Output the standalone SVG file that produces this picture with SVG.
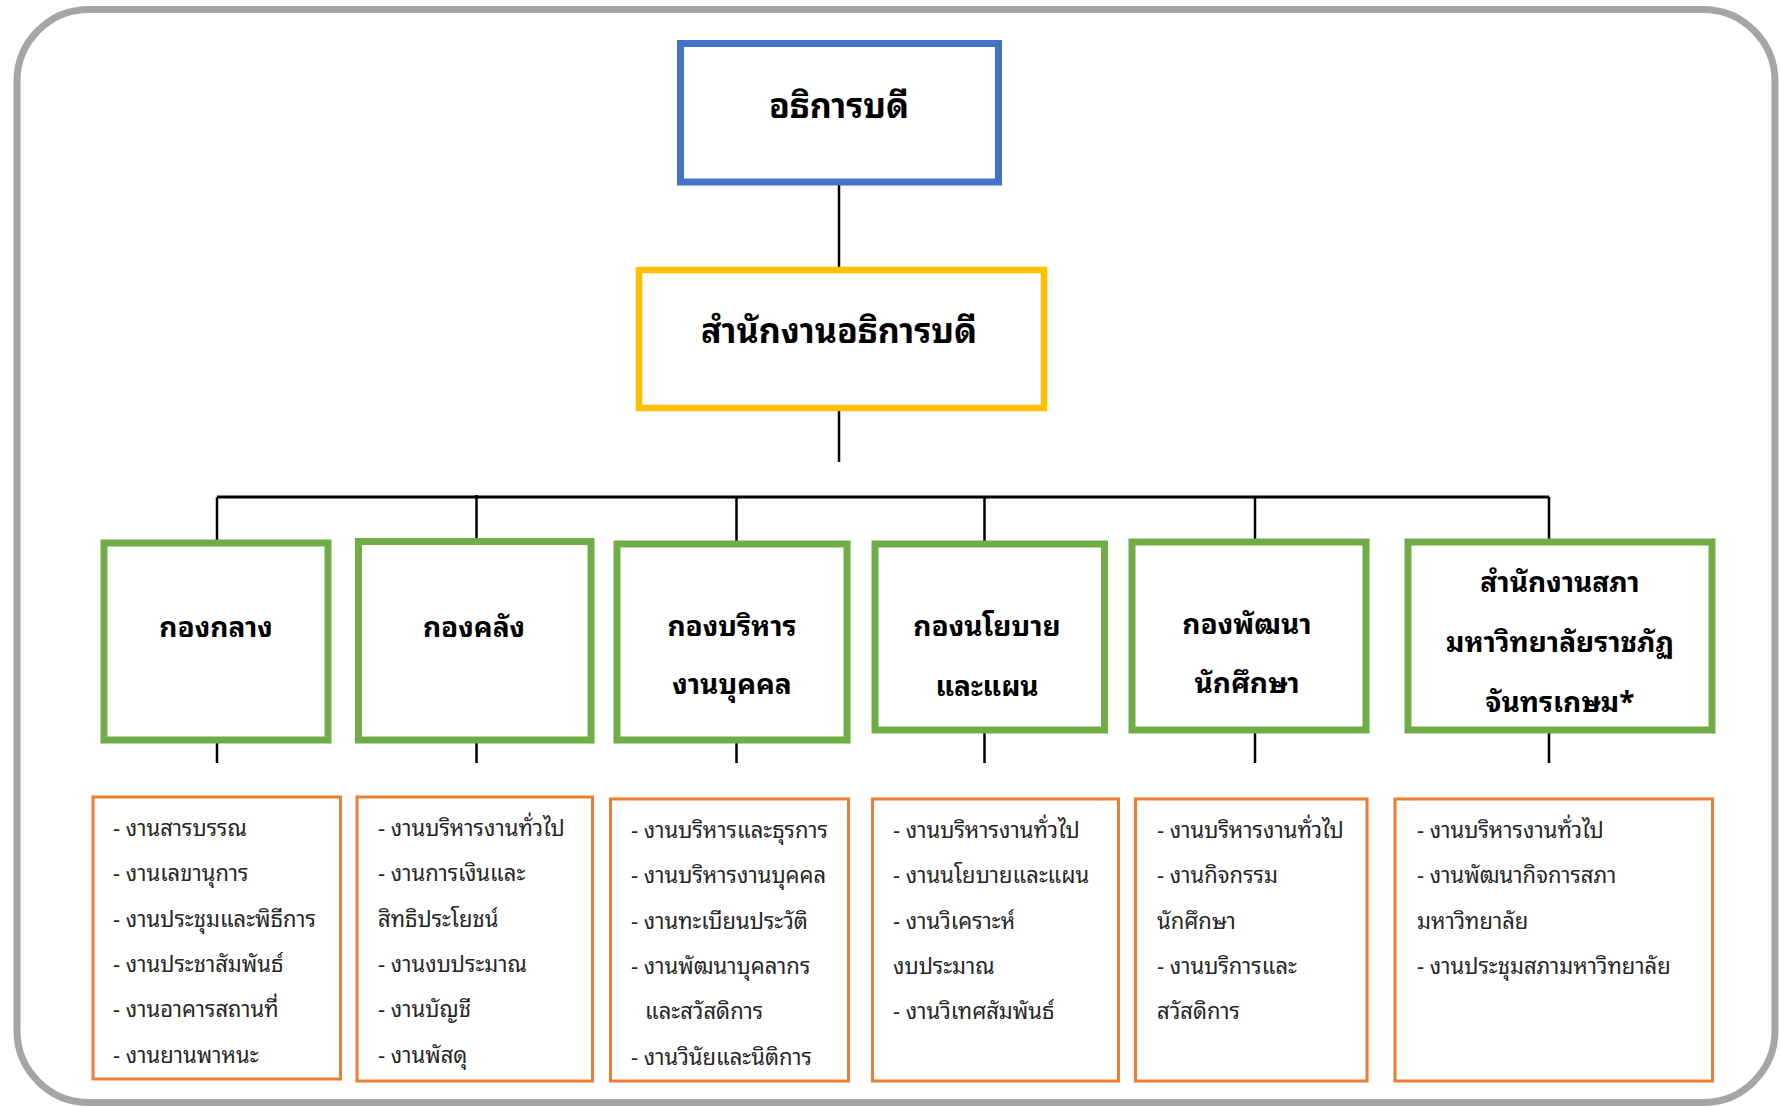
<svg xmlns="http://www.w3.org/2000/svg" width="1780" height="1107" viewBox="0 0 1780 1107">
<style>
.frame{fill:#fff;stroke:#A5A5A5;stroke-width:7}
.top{fill:#fff;stroke:#4472C4;stroke-width:7}
.office{fill:#fff;stroke:#FFC000;stroke-width:6.5}
.div{fill:#fff;stroke:#70AD47;stroke-width:7}
.sub{fill:#fff;stroke:#ED7D31;stroke-width:3}
.conn line{stroke:#000;stroke-width:2.5}
text{font-family:'Noto Sans Thai Looped','Loma','Garuda','Tahoma','Leelawadee UI','Noto Sans Thai','Noto Sans',sans-serif}
.t1{font-size:34px;font-weight:700;fill:#000;text-anchor:middle}
.t2{font-size:28px;font-weight:700;fill:#000;text-anchor:middle}
.t3{font-size:22px;fill:#262626}
</style>
<rect class="frame" x="17" y="9.5" width="1758" height="1093" rx="72" ry="72"/>
<g id="conn" class="conn">
<line x1="839" y1="182" x2="839" y2="270"/>
<line x1="839" y1="408" x2="839" y2="462"/>
<line x1="217" y1="497" x2="1549" y2="497" style="stroke-width:3.2"/>
<line x1="217" y1="497" x2="217" y2="543"/>
<line x1="476.5" y1="495" x2="476.5" y2="541"/>
<line x1="736.5" y1="497" x2="736.5" y2="544"/>
<line x1="984.5" y1="497" x2="984.5" y2="544"/>
<line x1="1255" y1="497" x2="1255" y2="542"/>
<line x1="1549" y1="497" x2="1549" y2="542"/>
<line x1="217" y1="740" x2="217" y2="763"/>
<line x1="476.5" y1="740" x2="476.5" y2="763"/>
<line x1="736.5" y1="740" x2="736.5" y2="763"/>
<line x1="984.5" y1="730" x2="984.5" y2="763"/>
<line x1="1255" y1="730" x2="1255" y2="763"/>
<line x1="1549" y1="730" x2="1549" y2="763"/>
</g>
<g id="president">
<rect class="top" x="680.5" y="43.5" width="318" height="138.5"/>
<text class="t1" x="839" y="118">อธิการบดี</text>
</g>
<g id="office">
<rect class="office" x="639" y="270" width="405" height="138"/>
<text class="t1" x="839" y="343">สำนักงานอธิการบดี</text>
</g>
<g id="div1">
<rect class="div" x="104" y="543" width="224" height="197"/>
<text class="t2" x="216" y="637">กองกลาง</text>
</g>
<g id="div2">
<rect class="div" x="358.5" y="541.5" width="232.5" height="198.5"/>
<text class="t2" x="474" y="637">กองคลัง</text>
</g>
<g id="div3">
<rect class="div" x="617" y="544" width="230" height="196"/>
<text class="t2" x="732" y="635.5">กองบริหาร</text>
<text class="t2" x="732" y="693.5">งานบุคคล</text>
</g>
<g id="div4">
<rect class="div" x="875" y="544" width="229.5" height="186"/>
<text class="t2" x="987" y="636">กองนโยบาย</text>
<text class="t2" x="987" y="696">และแผน</text>
</g>
<g id="div5">
<rect class="div" x="1132" y="542" width="234" height="188"/>
<text class="t2" x="1247" y="633.5">กองพัฒนา</text>
<text class="t2" x="1247" y="693">นักศึกษา</text>
</g>
<g id="div6">
<rect class="div" x="1408" y="542" width="304" height="188"/>
<text class="t2" x="1560" y="592">สำนักงานสภา</text>
<text class="t2" x="1560" y="652">มหาวิทยาลัยราชภัฏ</text>
<text class="t2" x="1560" y="712">จันทรเกษม*</text>
</g>
<g id="sub1">
<rect class="sub" x="93" y="797" width="247.5" height="282"/>
<text class="t3" x="113" y="836">- งานสารบรรณ</text>
<text class="t3" x="113" y="881.3">- งานเลขานุการ</text>
<text class="t3" x="113" y="926.6">- งานประชุมและพิธีการ</text>
<text class="t3" x="113" y="972">- งานประชาสัมพันธ์</text>
<text class="t3" x="113" y="1017.3">- งานอาคารสถานที่</text>
<text class="t3" x="113" y="1062.6">- งานยานพาหนะ</text>
</g>
<g id="sub2">
<rect class="sub" x="357" y="797" width="235.5" height="284"/>
<text class="t3" x="378" y="836">- งานบริหารงานทั่วไป</text>
<text class="t3" x="378" y="881.3">- งานการเงินและ</text>
<text class="t3" x="378" y="926.6">สิทธิประโยชน์</text>
<text class="t3" x="378" y="972">- งานงบประมาณ</text>
<text class="t3" x="378" y="1017.3">- งานบัญชี</text>
<text class="t3" x="378" y="1062.6">- งานพัสดุ</text>
</g>
<g id="sub3">
<rect class="sub" x="610.5" y="799" width="238" height="282"/>
<text class="t3" x="631" y="838">- งานบริหารและธุรการ</text>
<text class="t3" x="631" y="883.3">- งานบริหารงานบุคคล</text>
<text class="t3" x="631" y="928.6">- งานทะเบียนประวัติ</text>
<text class="t3" x="631" y="974">- งานพัฒนาบุคลากร</text>
<text class="t3" x="645" y="1019.3">และสวัสดิการ</text>
<text class="t3" x="631" y="1064.6">- งานวินัยและนิติการ</text>
</g>
<g id="sub4">
<rect class="sub" x="872.5" y="799" width="246" height="282"/>
<text class="t3" x="893" y="838">- งานบริหารงานทั่วไป</text>
<text class="t3" x="893" y="883.3">- งานนโยบายและแผน</text>
<text class="t3" x="893" y="928.6">- งานวิเคราะห์</text>
<text class="t3" x="893" y="974">งบประมาณ</text>
<text class="t3" x="893" y="1019.3">- งานวิเทศสัมพันธ์</text>
</g>
<g id="sub5">
<rect class="sub" x="1135.5" y="799" width="231.5" height="282"/>
<text class="t3" x="1157" y="838">- งานบริหารงานทั่วไป</text>
<text class="t3" x="1157" y="883.3">- งานกิจกรรม</text>
<text class="t3" x="1157" y="928.6">นักศึกษา</text>
<text class="t3" x="1157" y="974">- งานบริการและ</text>
<text class="t3" x="1157" y="1019.3">สวัสดิการ</text>
</g>
<g id="sub6">
<rect class="sub" x="1395" y="799" width="317.5" height="282"/>
<text class="t3" x="1417" y="838">- งานบริหารงานทั่วไป</text>
<text class="t3" x="1417" y="883.3">- งานพัฒนากิจการสภา</text>
<text class="t3" x="1417" y="928.6">มหาวิทยาลัย</text>
<text class="t3" x="1417" y="974">- งานประชุมสภามหาวิทยาลัย</text>
</g>
</svg>
